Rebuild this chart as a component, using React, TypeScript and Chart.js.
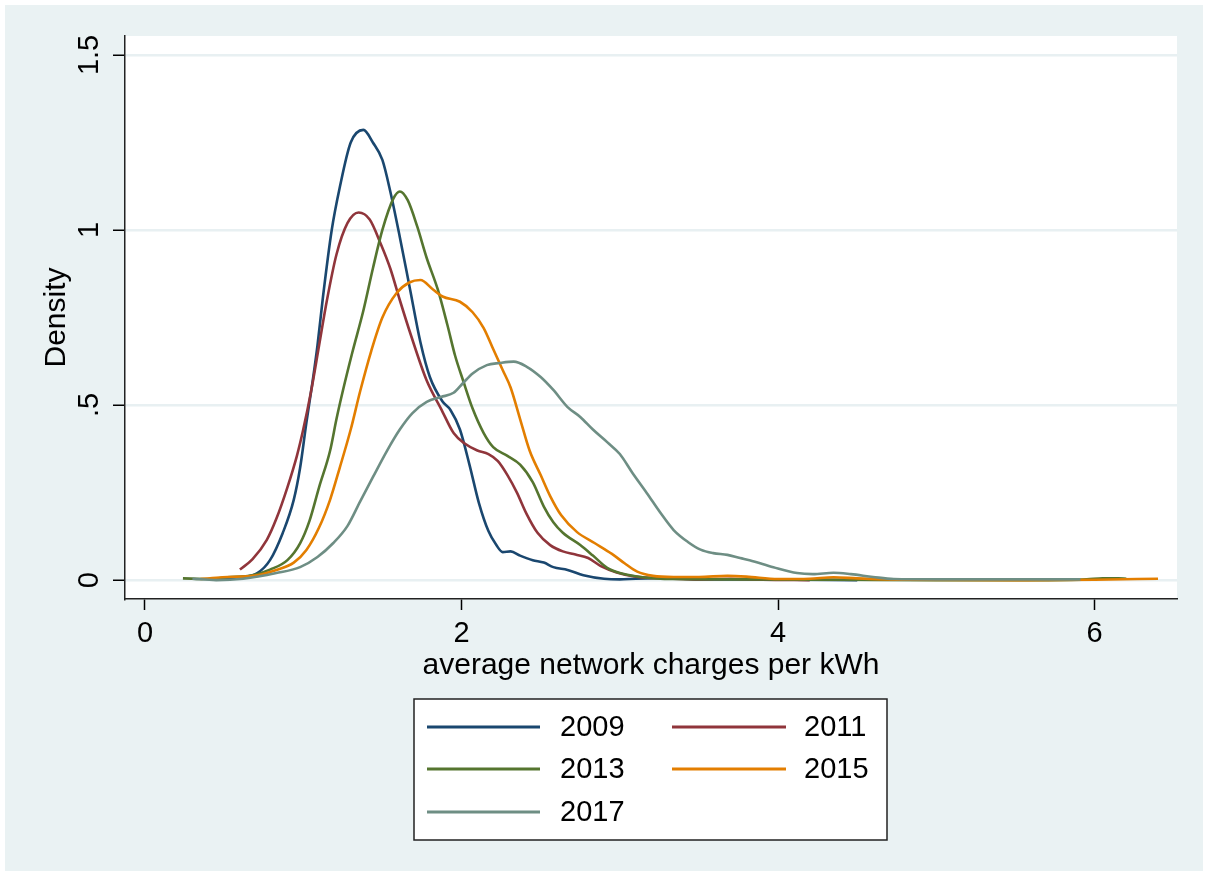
import React, { useEffect, useRef } from "react";
import { Chart, registerables } from "chart.js";

Chart.register(...registerables);

// ---------- data ----------
const seriesLabels = ["2009", "2011", "2013", "2015", "2017"];
const seriesColors = ["#1a476f", "#90353b", "#55752f", "#e37e00", "#6e8e84"];

const x2009 = [0.45, 0.6, 0.71, 0.79, 0.87, 0.94, 0.98, 1.02, 1.06, 1.09, 1.125, 1.18, 1.23, 1.3, 1.38, 1.44, 1.5, 1.55, 1.61, 1.675, 1.74, 1.8, 1.88, 1.93, 1.99, 2.05, 2.11, 2.17, 2.22, 2.26, 2.31, 2.37, 2.45, 2.52, 2.58, 2.67, 2.77, 2.9, 3.0, 3.1, 3.3, 3.5, 3.8, 4.1, 4.5];
const d2009 = [0.002, 0.008, 0.02, 0.057, 0.134, 0.229, 0.32, 0.45, 0.57, 0.67, 0.81, 1.0, 1.12, 1.25, 1.286, 1.25, 1.2, 1.11, 0.98, 0.83, 0.68, 0.58, 0.51, 0.486, 0.43, 0.33, 0.22, 0.14, 0.1, 0.08, 0.082, 0.07, 0.057, 0.05, 0.037, 0.029, 0.014, 0.004, 0.002, 0.004, 0.006, 0.002, 0.002, 0.001, 0.0];

const x2011 = [0.6, 0.68, 0.77, 0.83, 0.9, 0.96, 1.0, 1.05, 1.1, 1.15, 1.21, 1.28, 1.35, 1.42, 1.49, 1.55, 1.61, 1.68, 1.78, 1.87, 1.95, 2.02, 2.1, 2.17, 2.23, 2.29, 2.35, 2.41, 2.48, 2.56, 2.64, 2.72, 2.8, 2.88, 2.98, 3.1, 3.3, 3.5, 3.7, 3.9, 4.2];
const d2011 = [0.03, 0.06, 0.115, 0.175, 0.265, 0.355, 0.43, 0.54, 0.67, 0.8, 0.93, 1.02, 1.05, 1.03, 0.96, 0.89, 0.8, 0.7, 0.57, 0.49, 0.42, 0.39, 0.37, 0.36, 0.34, 0.3, 0.25, 0.19, 0.135, 0.1, 0.082, 0.073, 0.063, 0.04, 0.022, 0.01, 0.005, 0.002, 0.004, 0.001, 0.0];

const x2013 = [0.24, 0.4, 0.52, 0.68, 0.79, 0.9, 0.98, 1.04, 1.1, 1.17, 1.21, 1.25, 1.31, 1.38, 1.44, 1.5, 1.57, 1.61, 1.66, 1.72, 1.78, 1.85, 1.91, 1.96, 2.01, 2.07, 2.14, 2.2, 2.29, 2.37, 2.45, 2.52, 2.58, 2.64, 2.75, 2.83, 2.92, 3.0, 3.13, 3.34, 3.8, 4.4, 5.0, 5.6, 5.95, 6.05, 6.15, 6.2];
const d2013 = [0.005, 0.003, 0.008, 0.014, 0.03, 0.057, 0.105, 0.17, 0.265, 0.37, 0.46, 0.54, 0.65, 0.77, 0.89, 1.0, 1.09, 1.11, 1.085, 1.01, 0.92, 0.83, 0.73, 0.64, 0.57, 0.49, 0.42, 0.38, 0.355, 0.33, 0.28, 0.21, 0.165, 0.135, 0.1, 0.07, 0.035, 0.02, 0.009, 0.003, 0.002, 0.001, 0.0, 0.0, 0.002, 0.005, 0.005, 0.004];

const x2015 = [0.35, 0.49, 0.71, 0.83, 0.94, 1.02, 1.1, 1.17, 1.23, 1.3, 1.36, 1.43, 1.5, 1.59, 1.67, 1.74, 1.82, 1.88, 1.99, 2.07, 2.14, 2.2, 2.26, 2.31, 2.37, 2.43, 2.5, 2.56, 2.63, 2.73, 2.84, 2.95, 3.03, 3.11, 3.21, 3.34, 3.5, 3.68, 3.8, 4.0, 4.2, 4.35, 4.5, 4.8, 5.5, 6.0, 6.4];
const d2015 = [0.003, 0.008, 0.014, 0.029, 0.05, 0.086, 0.15, 0.23, 0.32, 0.43, 0.54, 0.655, 0.75, 0.82, 0.85, 0.857, 0.83, 0.81, 0.795, 0.765, 0.72, 0.66, 0.6, 0.55, 0.46, 0.37, 0.3, 0.24, 0.185, 0.137, 0.106, 0.075, 0.048, 0.024, 0.012, 0.009, 0.009, 0.012, 0.01, 0.003, 0.004, 0.008, 0.005, 0.001, 0.0, 0.001, 0.004];

const x2017 = [0.3, 0.45, 0.62, 0.83, 0.98, 1.09, 1.19, 1.28, 1.36, 1.44, 1.53, 1.61, 1.69, 1.78, 1.87, 1.95, 2.01, 2.07, 2.16, 2.24, 2.33, 2.41, 2.5, 2.58, 2.67, 2.75, 2.83, 2.92, 3.0, 3.08, 3.17, 3.26, 3.34, 3.43, 3.51, 3.59, 3.68, 3.76, 3.82, 3.97, 4.12, 4.22, 4.35, 4.46, 4.6, 4.73, 5.0, 5.5, 5.91];
const d2017 = [0.004, 0.0, 0.004, 0.02, 0.037, 0.066, 0.106, 0.155, 0.225, 0.294, 0.37, 0.43, 0.477, 0.509, 0.523, 0.535, 0.563, 0.59, 0.614, 0.62, 0.624, 0.61, 0.58, 0.543, 0.494, 0.466, 0.43, 0.394, 0.36, 0.306, 0.249, 0.19, 0.143, 0.109, 0.087, 0.077, 0.072, 0.063, 0.057, 0.037, 0.02, 0.017, 0.021, 0.017, 0.009, 0.003, 0.002, 0.002, 0.002];

const seriesX = [x2009, x2011, x2013, x2015, x2017];
const seriesD = [d2009, d2011, d2013, d2015, d2017];

const xTicks = [0, 2, 4, 6];
const xTickLabels = ["0", "2", "4", "6"];
const yTicks = [0, 0.5, 1, 1.5];
const yTickLabels = ["0", ".5", "1", "1.5"];
const xTitle = "average network charges per kWh";
const yTitle = "Density";

// ---------- style ----------
const W = 1208;
const H = 876;
const BG = "rgb(234,242,243)";
const GRID = "rgb(232,240,242)";
const FONT = '"Liberation Sans", Arial, sans-serif';
const FS = 30;

const stataPlugin = {
  id: "stataLook",
  beforeDraw(chart: any) {
    const { ctx, chartArea } = chart;
    ctx.save();
    ctx.fillStyle = "#ffffff";
    ctx.fillRect(0, 0, W, H);
    ctx.fillStyle = BG;
    ctx.fillRect(5, 5, W - 10, H - 10);
    ctx.fillStyle = "#ffffff";
    ctx.fillRect(chartArea.left, chartArea.top, chartArea.right - chartArea.left, chartArea.bottom - chartArea.top);
    ctx.restore();
  },
  afterDraw(chart: any) {
    const { ctx } = chart;
    const ys = chart.scales.y;
    ctx.save();
    ctx.font = `${FS - 1}px ${FONT}`;
    ctx.fillStyle = "#000";
    ctx.textAlign = "center";
    ctx.textBaseline = "middle";
    yTicks.forEach((v, i) => {
      const py = ys.getPixelForValue(v);
      ctx.save();
      ctx.translate(90, py);
      ctx.rotate(-Math.PI / 2);
      ctx.fillText(yTickLabels[i], 0, 0);
      ctx.restore();
    });

    // legend box
    const bx = 414, by = 699, bw = 473, bh = 141;
    ctx.fillStyle = "#ffffff";
    ctx.fillRect(bx, by, bw, bh);
    ctx.strokeStyle = "#222";
    ctx.lineWidth = 1.5;
    ctx.strokeRect(bx, by, bw, bh);
    const rowsY = [727, 769, 812];
    const colLineX = [[427, 540], [672, 786]];
    const colTextX = [560, 804];
    ctx.textAlign = "left";
    chart.data.datasets.forEach((ds: any, i: number) => {
      const r = Math.floor(i / 2);
      const c = i % 2;
      const y = rowsY[r];
      ctx.strokeStyle = ds.borderColor;
      ctx.lineWidth = 3;
      ctx.beginPath();
      ctx.moveTo(colLineX[c][0], y);
      ctx.lineTo(colLineX[c][1], y);
      ctx.stroke();
      ctx.fillStyle = "#000";
      ctx.font = `${FS - 1}px ${FONT}`;
      ctx.fillText(ds.label, colTextX[c], y + 1);
    });
    ctx.restore();
  },
};

export default function App() {
  const ref = useRef<HTMLCanvasElement | null>(null);

  useEffect(() => {
    document.body.style.margin = "0";
    const canvas = ref.current;
    if (!canvas) return;
    const datasets = seriesLabels.map((label, i) => ({
      label,
      data: seriesX[i].map((x, j) => ({ x, y: seriesD[i][j] })),
      borderColor: seriesColors[i],
      backgroundColor: seriesColors[i],
      borderWidth: 2.6,
      pointRadius: 0,
      fill: false,
      cubicInterpolationMode: "monotone" as const,
      order: seriesLabels.length - i,
    }));

    const chart = new Chart(canvas, {
      type: "line",
      data: { datasets },
      options: {
        animation: false,
        responsive: false,
        devicePixelRatio: 1,
        layout: { padding: { top: 36, right: 31, bottom: 187, left: 0 } },
        plugins: {
          legend: { display: false },
          tooltip: { enabled: false },
        },
        scales: {
          x: {
            type: "linear",
            min: -0.126,
            max: 6.52,
            afterBuildTicks: (s: any) => {
              s.ticks = xTicks.map((v) => ({ value: v }));
            },
            afterFit: (s: any) => {
              s.height = 90;
            },
            ticks: {
              autoSkip: false,
              maxRotation: 0,
              minRotation: 0,
              padding: 7,
              color: "#000",
              font: { family: FONT, size: FS - 1 },
              callback: (v: any) => {
                const k = xTicks.indexOf(Number(v));
                return k >= 0 ? xTickLabels[k] : "";
              },
            },
            grid: {
              display: true,
              drawOnChartArea: false,
              drawTicks: true,
              tickLength: 11,
              tickColor: "#000",
              tickWidth: 1.5,
            },
            border: { display: true, color: "#222", width: 1.5 },
            title: {
              display: true,
              text: xTitle,
              color: "#000",
              font: { family: FONT, size: FS },
              padding: { top: 0, bottom: 5 },
            },
          },
          y: {
            type: "linear",
            min: -0.054,
            max: 1.554,
            afterBuildTicks: (s: any) => {
              s.ticks = yTicks.map((v) => ({ value: v }));
            },
            afterFit: (s: any) => {
              s.width = 125;
            },
            ticks: { display: false },
            grid: {
              display: true,
              drawOnChartArea: true,
              color: GRID,
              lineWidth: 2.5,
              drawTicks: true,
              tickLength: 12,
              tickColor: "#000",
              tickWidth: 1.5,
            },
            border: { display: true, color: "#222", width: 1.5 },
            title: {
              display: true,
              text: yTitle,
              color: "#000",
              font: { family: FONT, size: FS },
              padding: { top: 39, bottom: 0 },
            },
          },
        },
      },
      plugins: [stataPlugin],
    } as any);

    return () => chart.destroy();
  }, []);

  return (
    <canvas
      ref={ref}
      width={W}
      height={H}
      style={{ display: "block", width: W, height: H }}
    />
  );
}
